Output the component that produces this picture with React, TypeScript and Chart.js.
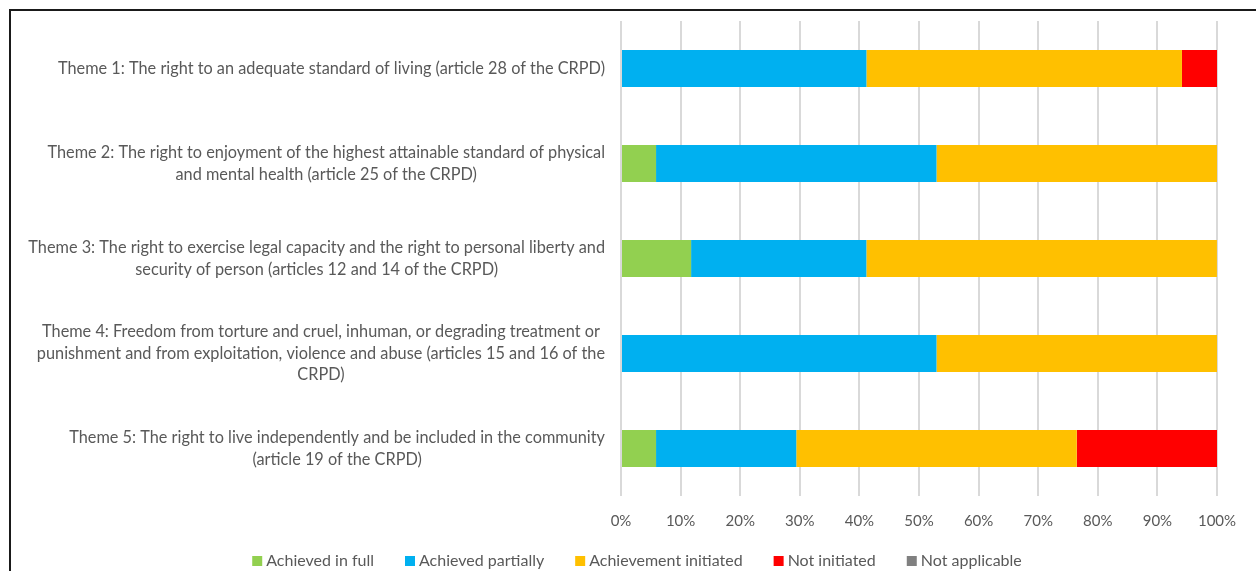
import React, { useEffect, useRef } from "react";
import { Chart, registerables } from "chart.js";

Chart.register(...registerables);

const categories: string[][] = [
  ["Theme 1: The right to an adequate standard of living (article 28 of the CRPD)"],
  [
    "Theme 2: The right to enjoyment of the highest attainable standard of physical",
    "and mental health (article 25 of the CRPD)",
  ],
  [
    "Theme 3: The right to exercise legal capacity and the right to personal liberty and",
    "security of person (articles 12 and 14 of the CRPD)",
  ],
  [
    "Theme 4: Freedom from torture and cruel, inhuman, or degrading treatment or",
    "punishment and from exploitation, violence and abuse (articles 15 and 16 of the",
    "CRPD)",
  ],
  [
    "Theme 5: The right to live independently and be included in the community",
    "(article 19 of the CRPD)",
  ],
];

const achievedInFull = [0, 5.88, 11.76, 0, 5.88];
const achievedPartially = [41.18, 47.06, 29.41, 52.94, 23.53];
const achievementInitiated = [52.94, 47.06, 58.82, 47.06, 47.06];
const notInitiated = [5.88, 0, 0, 0, 23.53];
const notApplicable = [0, 0, 0, 0, 0];

const seriesNames = [
  "Achieved in full",
  "Achieved partially",
  "Achievement initiated",
  "Not initiated",
  "Not applicable",
];
const seriesColors = ["#92d050", "#00b0f0", "#ffc000", "#ff0000", "#808080"];

const FONT = "Lato, 'DejaVu Sans', sans-serif";
const TEXT = "#595959";

const labelPlugin = {
  id: "blockLabels",
  afterDraw(chart: any) {
    const ctx = chart.ctx;
    const y = chart.scales.y;
    const right = y.right - 16;
    const lh = 21.5;
    ctx.save();
    ctx.font = `16.3px ${FONT}`;
    ctx.fillStyle = TEXT;
    ctx.textBaseline = "middle";
    ctx.textAlign = "center";
    categories.forEach((lines, i) => {
      const cy = y.getPixelForTick(i);
      const w = Math.max(...lines.map((l) => ctx.measureText(l).width));
      const cx = right - w / 2;
      const top = cy - ((lines.length - 1) * lh) / 2;
      lines.forEach((l, j) => ctx.fillText(l, cx, top + j * lh));
    });
    ctx.restore();
  },
};

const legendPlugin = {
  id: "customLegend",
  afterDraw(chart: any) {
    const ctx = chart.ctx;
    ctx.save();
    ctx.font = `16px ${FONT}`;
    ctx.textBaseline = "middle";
    ctx.textAlign = "left";
    const box = 10;
    const gapText = 4;
    const gapItem = 31;
    const items = chart.data.datasets.map((d: any) => ({
      label: d.label,
      color: d.backgroundColor,
      w: box + gapText + ctx.measureText(d.label).width,
    }));
    const total = items.reduce((s: number, it: any) => s + it.w, 0) + gapItem * (items.length - 1);
    let x = 637 - total / 2;
    const cy = chart.height - 10;
    items.forEach((it: any) => {
      ctx.fillStyle = it.color;
      ctx.fillRect(x, cy - box / 2, box, box);
      ctx.fillStyle = TEXT;
      ctx.fillText(it.label, x + box + gapText, cy);
      x += it.w + gapItem;
    });
    ctx.restore();
  },
};

export default function App() {
  const ref = useRef<HTMLCanvasElement>(null);
  useEffect(() => {
    document.body.style.margin = "0";
    const data = [achievedInFull, achievedPartially, achievementInitiated, notInitiated, notApplicable];
    const chart = new Chart(ref.current!, {
      type: "bar",
      data: {
        labels: categories.map((c) => c.join(" ")),
        datasets: data.map((d, i) => ({
          label: seriesNames[i],
          data: d,
          backgroundColor: seriesColors[i],
          borderWidth: 0,
          categoryPercentage: 1,
          barPercentage: 0.39,
        })),
      },
      options: {
        indexAxis: "y",
        responsive: false,
        animation: false,
        layout: { padding: { top: 21, right: 39, left: 0, bottom: 25 } },
        scales: {
          x: {
            stacked: true,
            min: 0,
            max: 100,
            ticks: {
              stepSize: 10,
              callback: (v: any) => v + "%",
              font: { family: FONT, size: 15 },
              color: TEXT,
              padding: 16,
            },
            grid: { color: "#d9d9d9", lineWidth: 2, drawTicks: false },
            border: { display: false },
          },
          y: {
            stacked: true,
            ticks: { display: false },
            grid: { display: false },
            border: { display: false },
            afterFit: (s: any) => {
              s.width = 621;
            },
          },
        },
        plugins: {
          legend: { display: false },
          tooltip: { enabled: false },
        },
      },
      plugins: [labelPlugin, legendPlugin],
    });
    return () => chart.destroy();
  }, []);
  return (
    <div style={{ position: "fixed", left: 0, top: 0, width: 1256, height: 571, overflow: "hidden", background: "#fff" }}>
      <div
        style={{
          position: "absolute",
          left: 9,
          top: 9,
          width: 1300,
          height: 700,
          border: "2px solid #1a1a1a",
        }}
      />
      <canvas ref={ref} width={1256} height={571} style={{ position: "absolute", left: 0, top: 0 }} />
    </div>
  );
}
